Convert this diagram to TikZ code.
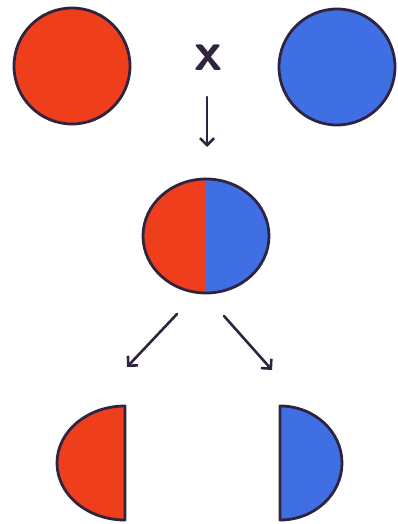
\documentclass[tikz,border=0pt]{standalone}
\usepackage{tikz}
\usetikzlibrary{shapes.geometric,arrows.meta,positioning}
\definecolor{Ink}      {HTML}{2E2440}
\definecolor{RedPaint} {HTML}{EE3E1C}
\definecolor{BluePaint}{HTML}{3F6FE2}

\begin{document}
\begin{tikzpicture}[x=1pt,y=-1pt,
  ball/.style={draw=Ink,ellipse,line width=2.8pt,minimum width=116pt,
    minimum height=116pt,inner sep=0pt},
  half/.style={draw=Ink,line width=2.8pt,line join=round},
  arr/.style={-{Straight Barb[length=7pt,width=14pt]},line width=2.6pt,
    draw=Ink,line cap=round}
]
\useasboundingbox (0,0) rectangle (397,524);
% parents
\node[ball,fill=RedPaint](red) at (72,66){};
\node[ball,fill=BluePaint](blue) at (337,67){};
\node[font=\sffamily\bfseries\fontsize{56}{56}\selectfont,text=Ink](cross) at (208,58){x};
% offspring
\node[ball,minimum width=126pt,minimum height=114pt,path picture={
  \fill[RedPaint](path picture bounding box.south west)
    rectangle(path picture bounding box.north);
  \fill[BluePaint](path picture bounding box.north)
    rectangle(path picture bounding box.south east);}](mix) at (206,236){};
% halves
\filldraw[half,fill=RedPaint](125,406) arc[start angle=90,end angle=270,
  x radius=68pt,y radius=57pt] -- cycle;
\filldraw[half,fill=BluePaint](280,520) arc[start angle=270,end angle=450,
  x radius=62pt,y radius=57pt] -- cycle;
% arrows
\coordinate(d0) at (207,97);  \coordinate(d1) at (207,147);
\coordinate(l0) at (177,314); \coordinate(l1) at (127,367);
\coordinate(r0) at (224,316); \coordinate(r1) at (272,370);
\draw[arr](d0)--(d1);\draw[arr](l0)--(l1);\draw[arr](r0)--(r1);
\end{tikzpicture}
\end{document}
